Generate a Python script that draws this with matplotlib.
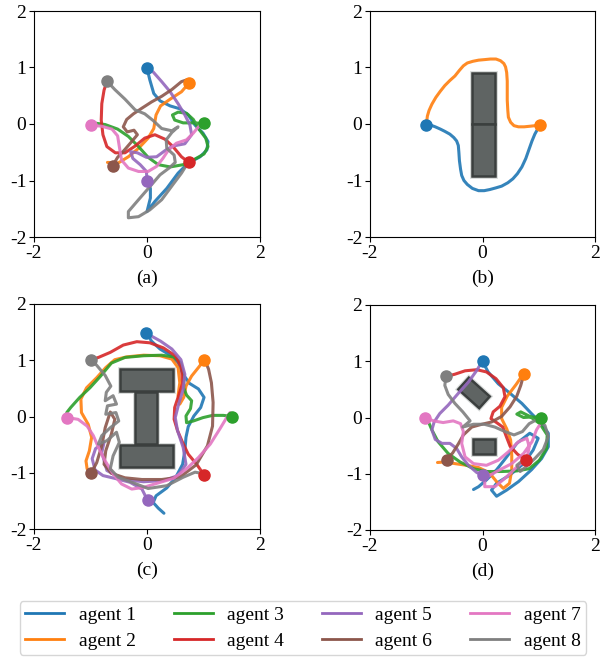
import matplotlib
matplotlib.use('Agg')
import matplotlib.pyplot as plt
from matplotlib.patches import Rectangle

plt.rcParams['font.family'] = ['Liberation Serif', 'DejaVu Serif']
plt.rcParams['axes.unicode_minus'] = False

colors = ['C0', 'C1', 'C2', 'C3', 'C4', 'C5', 'C6', 'C7']
labels = ['agent 1', 'agent 2', 'agent 3', 'agent 4',
          'agent 5', 'agent 6', 'agent 7', 'agent 8']
x_ticks = [-2, 0, 2]
y_ticks = [-2, -1, 0, 1, 2]
panel_names = ['(a)', '(b)', '(c)', '(d)']

# trajectories (x, y), first point = start dot
traj_a = [
    [(0.00, 0.99), (0.05, 0.78), (0.12, 0.54), (0.23, 0.41), (0.41, 0.32), (0.58, 0.27), (0.73, 0.16),
     (0.85, -0.02), (0.99, -0.16), (1.08, -0.31), (1.06, -0.46), (0.94, -0.58), (0.73, -0.69),
     (0.55, -0.87), (0.35, -1.14), (0.14, -1.37), (0.00, -1.55), (0.06, -1.31), (0.06, -1.14), (0.00, -1.02)],
    [(0.74, 0.72), (0.61, 0.57), (0.41, 0.44), (0.24, 0.32), (0.16, 0.16), (0.12, -0.08), (0.02, -0.25),
     (-0.15, -0.43), (-0.33, -0.58), (-0.51, -0.69), (-0.70, -0.68)],
    [(1.00, 0.01), (0.82, 0.02), (0.64, 0.02), (0.49, 0.07), (0.45, 0.16), (0.55, 0.21), (0.70, 0.19),
     (0.82, 0.08), (0.91, -0.08), (1.04, -0.25), (1.08, -0.40), (1.01, -0.53), (0.85, -0.62),
     (0.64, -0.72), (0.41, -0.76), (0.20, -0.72), (0.02, -0.59), (-0.15, -0.40), (-0.33, -0.22),
     (-0.52, -0.09), (-0.74, -0.01), (-0.95, 0.02)],
    [(0.74, -0.68), (0.61, -0.58), (0.46, -0.40), (0.32, -0.27), (0.14, -0.19), (-0.04, -0.25),
     (-0.21, -0.39), (-0.39, -0.51), (-0.56, -0.51), (-0.71, -0.40), (-0.78, -0.19), (-0.81, 0.07),
     (-0.80, 0.36), (-0.76, 0.60), (-0.71, 0.75)],
    [(0.00, -1.00), (-0.01, -0.84), (-0.12, -0.72), (-0.25, -0.61), (-0.29, -0.49), (-0.17, -0.51),
     (-0.01, -0.59), (0.17, -0.58), (0.32, -0.47), (0.46, -0.39), (0.67, -0.35), (0.79, -0.19),
     (0.76, -0.02), (0.67, 0.16), (0.55, 0.36), (0.41, 0.57), (0.26, 0.75), (0.11, 0.92), (0.02, 0.99)],
    [(-0.61, -0.74), (-0.52, -0.59), (-0.39, -0.45), (-0.27, -0.31), (-0.17, -0.19), (-0.23, -0.11),
     (-0.35, -0.14), (-0.42, -0.05), (-0.36, 0.08), (-0.24, 0.18), (-0.09, 0.28), (0.08, 0.39),
     (0.26, 0.49), (0.44, 0.61), (0.61, 0.75), (0.70, 0.78)],
    [(-0.99, -0.02), (-0.80, -0.04), (-0.62, -0.09), (-0.52, -0.21), (-0.49, -0.40), (-0.45, -0.64),
     (-0.33, -0.78), (-0.15, -0.84), (0.02, -0.84), (0.17, -0.75), (0.28, -0.61), (0.38, -0.46),
     (0.52, -0.34), (0.70, -0.28), (0.82, -0.16), (0.91, -0.05)],
    [(-0.71, 0.76), (-0.57, 0.61), (-0.39, 0.44), (-0.21, 0.25), (-0.04, 0.18), (0.11, 0.06),
     (0.26, -0.08), (0.44, -0.12), (0.55, -0.05), (0.44, -0.15), (0.34, -0.28), (0.35, -0.43),
     (0.48, -0.55), (0.50, -0.68), (0.39, -0.78), (0.23, -0.90), (0.05, -1.11), (-0.15, -1.34),
     (-0.33, -1.55), (-0.33, -1.66), (-0.15, -1.64), (0.05, -1.52), (0.26, -1.34), (0.46, -1.07),
     (0.61, -0.87), (0.71, -0.71)],
]

traj_b = [
    [(-1.00, -0.01), (-0.92, -0.02), (-0.84, -0.05), (-0.75, -0.09), (-0.67, -0.13), (-0.58, -0.18),
     (-0.51, -0.24), (-0.46, -0.30), (-0.43, -0.38), (-0.42, -0.50), (-0.41, -0.65), (-0.39, -0.80),
     (-0.37, -0.91), (-0.33, -1.00), (-0.27, -1.07), (-0.18, -1.14), (-0.07, -1.18), (0.03, -1.18),
     (0.13, -1.16), (0.24, -1.13), (0.34, -1.10), (0.45, -1.04), (0.54, -0.97), (0.62, -0.88),
     (0.70, -0.76), (0.77, -0.61), (0.83, -0.44), (0.88, -0.30), (0.93, -0.18), (0.98, -0.09), (1.02, -0.03)],
    [(1.02, -0.02), (0.93, -0.03), (0.84, -0.04), (0.74, -0.05), (0.64, -0.05), (0.56, -0.03),
     (0.50, 0.03), (0.46, 0.12), (0.45, 0.24), (0.44, 0.42), (0.44, 0.59), (0.44, 0.76), (0.43, 0.91),
     (0.41, 1.01), (0.38, 1.07), (0.32, 1.12), (0.24, 1.15), (0.14, 1.15), (0.04, 1.14), (-0.07, 1.13),
     (-0.17, 1.11), (-0.27, 1.08), (-0.34, 1.03), (-0.41, 0.95), (-0.49, 0.85), (-0.58, 0.77),
     (-0.67, 0.68), (-0.75, 0.58), (-0.83, 0.47), (-0.90, 0.35), (-0.95, 0.24), (-0.98, 0.14), (-0.99, 0.06)],
]

traj_c = [
    [(-0.01, 1.49), (0.08, 1.34), (0.23, 1.20), (0.41, 1.09), (0.55, 0.96), (0.64, 0.75), (0.75, 0.59),
     (0.91, 0.49), (1.01, 0.34), (0.95, 0.16), (0.83, 0.01), (0.73, -0.18), (0.69, -0.37),
     (0.67, -0.61), (0.63, -0.85), (0.51, -1.08), (0.35, -1.27), (0.16, -1.41), (0.11, -1.53),
     (0.20, -1.63), (0.30, -1.72)],
    [(1.01, 1.00), (0.91, 0.87), (0.79, 0.72), (0.69, 0.54), (0.65, 0.34), (0.58, 0.22), (0.55, 0.37),
     (0.58, 0.60), (0.55, 0.87), (0.44, 1.02), (0.23, 1.08), (-0.06, 1.09), (-0.36, 1.06),
     (-0.57, 1.01), (-0.73, 0.87), (-0.89, 0.69), (-1.07, 0.51), (-1.17, 0.31), (-1.16, 0.07),
     (-1.04, -0.14), (-0.98, -0.37), (-1.02, -0.61), (-1.08, -0.79), (-1.06, -0.93)],
    [(1.51, 0.00), (1.35, 0.02), (1.16, 0.02), (0.99, -0.02), (0.82, -0.08), (0.70, -0.11), (0.69, 0.01),
     (0.77, 0.14), (0.79, 0.28), (0.70, 0.38), (0.65, 0.51), (0.65, 0.73), (0.60, 0.95), (0.47, 1.06),
     (0.26, 1.09), (-0.06, 1.08), (-0.39, 1.05), (-0.63, 0.95), (-0.82, 0.72), (-1.01, 0.51),
     (-1.19, 0.34), (-1.35, 0.16), (-1.42, 0.07)],
    [(1.01, -1.04), (0.88, -0.85), (0.73, -0.67), (0.63, -0.46), (0.54, -0.25), (0.48, -0.05),
     (0.49, 0.16), (0.56, 0.37), (0.63, 0.59), (0.61, 0.87), (0.50, 1.08), (0.29, 1.22), (0.05, 1.31),
     (-0.18, 1.33), (-0.42, 1.27), (-0.65, 1.14), (-0.86, 1.05), (-0.96, 1.02)],
    [(0.01, -1.49), (-0.09, -1.29), (-0.30, -1.17), (-0.57, -1.10), (-0.78, -1.05), (-0.92, -0.95),
     (-0.97, -0.75), (-0.91, -0.57), (-0.76, -0.46), (-0.80, -0.64), (-0.71, -0.96), (-0.42, -1.12),
     (-0.06, -1.16), (0.29, -1.14), (0.55, -1.05), (0.69, -0.85), (0.64, -0.55), (0.54, -0.25),
     (0.50, -0.02), (0.56, 0.22), (0.64, 0.48), (0.67, 0.75), (0.60, 1.01), (0.44, 1.20),
     (0.24, 1.34), (0.06, 1.44)],
    [(-0.99, -1.01), (-0.89, -0.82), (-0.80, -0.52), (-0.74, -0.20), (-0.65, 0.08), (-0.57, -0.05),
     (-0.63, -0.31), (-0.73, -0.61), (-0.76, -0.85), (-0.63, -1.01), (-0.39, -1.09), (-0.09, -1.12),
     (0.26, -1.12), (0.58, -1.08), (0.87, -0.86), (1.07, -0.52), (1.16, -0.17), (1.17, 0.25),
     (1.14, 0.60), (1.09, 0.84), (1.03, 0.99)],
    [(-1.41, -0.02), (-1.22, -0.05), (-1.06, -0.17), (-0.95, -0.34), (-0.86, -0.55), (-0.74, -0.79),
     (-0.60, -1.02), (-0.45, -1.20), (-0.27, -1.29), (-0.06, -1.26), (0.20, -1.18), (0.47, -1.10),
     (0.70, -0.93), (0.91, -0.73), (1.12, -0.49), (1.29, -0.22), (1.41, -0.02), (1.47, 0.07)],
    [(-0.99, 1.01), (-0.89, 0.91), (-0.74, 0.73), (-0.64, 0.54), (-0.72, 0.43), (-0.74, 0.28),
     (-0.60, 0.37), (-0.54, 0.22), (-0.70, 0.19), (-0.73, 0.04), (-0.55, 0.07), (-0.50, -0.08),
     (-0.65, -0.20), (-0.80, -0.34), (-0.86, -0.49), (-0.71, -0.43), (-0.54, -0.28), (-0.49, -0.46),
     (-0.60, -0.70), (-0.65, -0.93), (-0.51, -1.08), (-0.24, -1.18), (0.02, -1.28), (0.35, -1.23),
     (0.64, -1.08), (0.85, -0.99), (0.97, -1.01)],
]

traj_d = [
    [(0.00, 1.00), (0.10, 0.81), (0.28, 0.60), (0.49, 0.43), (0.70, 0.25), (0.87, 0.07), (1.05, -0.11),
     (1.17, -0.28), (1.17, -0.52), (1.05, -0.73), (0.87, -0.93), (0.64, -1.14), (0.43, -1.29),
     (0.25, -1.40), (0.16, -1.29), (0.25, -1.17), (0.49, -1.02), (0.73, -0.82), (0.90, -0.58),
     (0.99, -0.37), (0.84, -0.28), (0.61, -0.46), (0.43, -0.70), (0.25, -0.93), (0.07, -1.11),
     (-0.07, -1.23), (-0.16, -1.28)],
    [(0.73, 0.78), (0.60, 0.59), (0.44, 0.38), (0.34, 0.18), (0.34, -0.02), (0.43, -0.20), (0.50, -0.40),
     (0.52, -0.67), (0.52, -0.93), (0.48, -1.17), (0.37, -1.26), (0.25, -1.14), (0.12, -0.98),
     (-0.07, -0.89), (-0.28, -0.85), (-0.49, -0.82), (-0.67, -0.79), (-0.80, -0.80)],
    [(1.04, 0.00), (0.88, 0.01), (0.73, 0.00), (0.61, 0.06), (0.68, 0.10), (0.84, 0.02), (1.02, -0.11),
     (1.15, -0.31), (1.14, -0.55), (1.01, -0.76), (0.83, -0.91), (0.61, -0.95), (0.34, -0.96),
     (0.07, -0.96), (-0.16, -0.91), (-0.40, -0.79), (-0.61, -0.64), (-0.79, -0.43), (-0.90, -0.22),
     (-0.96, -0.08)],
    [(0.77, -0.76), (0.62, -0.65), (0.49, -0.51), (0.42, -0.33), (0.36, -0.17), (0.25, -0.09),
     (0.15, -0.02), (0.19, 0.10), (0.31, 0.20), (0.40, 0.37), (0.37, 0.53), (0.24, 0.69), (0.07, 0.81),
     (-0.10, 0.85), (-0.31, 0.83), (-0.49, 0.77), (-0.64, 0.73)],
    [(0.01, -1.02), (-0.10, -0.98), (-0.25, -0.85), (-0.37, -0.70), (-0.46, -0.55), (-0.58, -0.46),
     (-0.72, -0.46), (-0.84, -0.39), (-0.90, -0.22), (-0.86, -0.08), (-0.76, 0.07), (-0.61, 0.22),
     (-0.43, 0.43), (-0.25, 0.63), (-0.10, 0.84), (-0.01, 0.99)],
    [(-0.64, -0.75), (-0.53, -0.63), (-0.43, -0.47), (-0.34, -0.31), (-0.19, -0.17), (-0.01, -0.12),
     (0.16, -0.08), (0.34, 0.02), (0.49, 0.19), (0.61, 0.38), (0.68, 0.57), (0.73, 0.75)],
    [(-1.02, 0.00), (-0.87, -0.06), (-0.70, -0.09), (-0.52, -0.06), (-0.39, -0.11), (-0.34, -0.25),
     (-0.37, -0.46), (-0.31, -0.70), (-0.16, -0.82), (0.07, -0.85), (0.28, -0.76), (0.46, -0.61),
     (0.64, -0.43), (0.79, -0.37), (0.83, -0.52), (0.79, -0.73), (0.61, -0.88), (0.40, -1.08),
     (0.22, -1.23), (0.04, -1.23), (0.04, -1.08), (0.25, -0.96), (0.52, -0.82), (0.73, -0.64),
     (0.88, -0.43), (0.96, -0.22), (1.05, -0.08)],
    [(-0.65, 0.74), (-0.67, 0.57), (-0.61, 0.41), (-0.49, 0.25), (-0.35, 0.10), (-0.22, -0.06),
     (-0.35, -0.17), (-0.16, -0.12), (0.03, -0.12), (0.22, -0.17), (0.40, -0.25), (0.56, -0.31),
     (0.71, -0.25), (0.83, -0.11), (0.96, -0.04), (1.11, -0.14), (1.17, -0.34), (1.08, -0.57),
     (0.93, -0.73), (0.79, -0.86), (0.67, -0.96), (0.61, -0.85), (0.71, -0.77)],
]

# obstacles: (x_left, y_bottom, width, height, angle_deg)
obst_a = []
obst_b = [(-0.18, 0.0, 0.40, 0.90, 0), (-0.18, -0.92, 0.40, 0.92, 0)]
obst_c = [(-0.48, 0.46, 0.94, 0.38, 0), (-0.21, -0.49, 0.38, 0.92, 0), (-0.48, -0.89, 0.94, 0.38, 0)]
obst_d = [(-0.43, 0.50, 0.50, 0.28, -42), (-0.17, -0.64, 0.39, 0.25, 0)]

# axes boxes in pixels: left, top, right, bottom
boxes = [(34, 11, 260, 237), (370, 11, 595, 237), (34, 304, 260, 529), (370, 305, 595, 530)]

W, H = 602, 659
fig = plt.figure(figsize=(W / 100, H / 100), dpi=100)

all_traj = [traj_a, traj_b, traj_c, traj_d]
all_obst = [obst_a, obst_b, obst_c, obst_d]
for k in range(4):
    l, t, r, b = boxes[k]
    ax = fig.add_axes([l / W, 1 - b / H, (r - l) / W, (b - t) / H])
    for (x0, y0, w, h, ang) in all_obst[k]:
        ax.add_patch(Rectangle((x0, y0), w, h, angle=ang, facecolor='#5c6160',
                               edgecolor='#d8dbda', lw=3.5, zorder=1))
        ax.add_patch(Rectangle((x0, y0), w, h, angle=ang, facecolor='#5f6463',
                               edgecolor='#3b3f3e', lw=1.8, zorder=1.5))
    for i, tr in enumerate(all_traj[k]):
        xs = [p[0] for p in tr]
        ys = [p[1] for p in tr]
        ax.plot(xs, ys, color=colors[i], lw=2.2, alpha=0.9,
                solid_joinstyle='round', solid_capstyle='round', zorder=2)
        ax.plot(xs[0], ys[0], 'o', color=colors[i], markersize=8, zorder=3)
    ax.set_xlim(-2, 2)
    ax.set_ylim(-2, 2)
    ax.set_xticks(x_ticks)
    ax.set_yticks(y_ticks)
    ax.tick_params(labelsize=14, pad=2)
    ax.set_xlabel(panel_names[k], fontsize=14, labelpad=6)

leg_lines = [plt.Line2D([], [], color=c, lw=2) for c in colors]
fig.legend(leg_lines, labels, loc='center', ncol=4, fontsize=14,
           bbox_to_anchor=(303 / W, 1 - 628 / H), handlelength=2.0,
           handletextpad=0.75, columnspacing=1.95, borderpad=0.3, labelspacing=0.4)

fig.savefig('out.png', dpi=100)
